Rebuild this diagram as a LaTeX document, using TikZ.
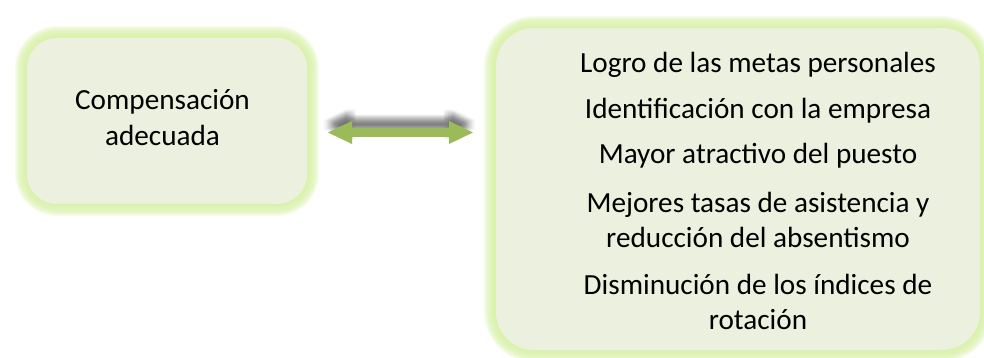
\documentclass[tikz,border=0pt]{standalone}
\usepackage{fontspec}
\setmainfont{Carlito}

\definecolor{boxfill}{RGB}{235,241,222}
\definecolor{glowgreen}{RGB}{214,240,165}
\definecolor{arrowgreen}{RGB}{155,187,89}

\tikzset{
  card/.style={fill=boxfill, draw=none, inner sep=0pt},
  cardtext/.style={anchor=base, inner sep=0pt, text=black,
    font=\fontsize{29.2}{35}\selectfont},
}

% two-headed block arrow, drawn from its left tip (145 wide)
\newcommand\twowayarrow{%
  (0,0) -- (24,-11.5) -- (24,-4.5) -- (121,-4.5) -- (121,-11.5) -- (145,0)
  -- (121,11.5) -- (121,4.5) -- (24,4.5) -- (24,11.5) -- cycle}

\begin{document}
\begin{tikzpicture}[x=1pt,y=-1pt]
\useasboundingbox (0,0) rectangle (984,358);

% soft green glow around both cards
\foreach \g [evaluate=\g as \r using 30+\g] in {1,...,12}
  \fill[glowgreen, opacity=0.18, rounded corners=\r pt]
    (27-\g,38-\g) rectangle (307+\g,204+\g);
\foreach \g [evaluate=\g as \r using 38+\g] in {1,...,12}
  \fill[glowgreen, opacity=0.18, rounded corners=\r pt]
    (496-\g,28-\g) rectangle (980+\g,350+\g);

% cards
\node[card, minimum width=280pt, minimum height=166pt, rounded corners=30pt]
  (comp) at (167,121) {};
\node[card, minimum width=484pt, minimum height=322pt, rounded corners=38pt]
  (eff) at (738,189) {};

% left card text
\node[cardtext] (c1) at (162.5,110) {Compensación};
\node[cardtext] (c2) at (162.5,145.7) {adecuada};

% right card text
\node[cardtext] (e1) at (758,73) {Logro de las metas personales};
\node[cardtext] (e2) at (758,118.5) {Identificación con la empresa};
\node[cardtext] (e3) at (758,164) {Mayor atractivo del puesto};
\node[cardtext] (e4) at (758,212) {Mejores tasas de asistencia y};
\node[cardtext] (e5) at (758,247.5) {reducción del absentismo};
\node[cardtext] (e6) at (758,294) {Disminución de los índices de};
\node[cardtext] (e7) at (758,329) {rotación};

% two-way arrow between the cards, with a soft blurred shadow
\coordinate (aL) at (328,132.5);
\foreach \dx in {-4.5,-3,-1.5,0,1.5,3,4.5}
  \foreach \dy in {-4.5,-3,-1.5,0,1.5,3,4.5}
    \fill[black, opacity=0.016, shift={(aL)}, xshift={(\dx-1)*1pt},
      yshift={-(\dy-8)*1pt}] \twowayarrow;
\fill[arrowgreen, shift={(aL)}] \twowayarrow;
\end{tikzpicture}
\end{document}
